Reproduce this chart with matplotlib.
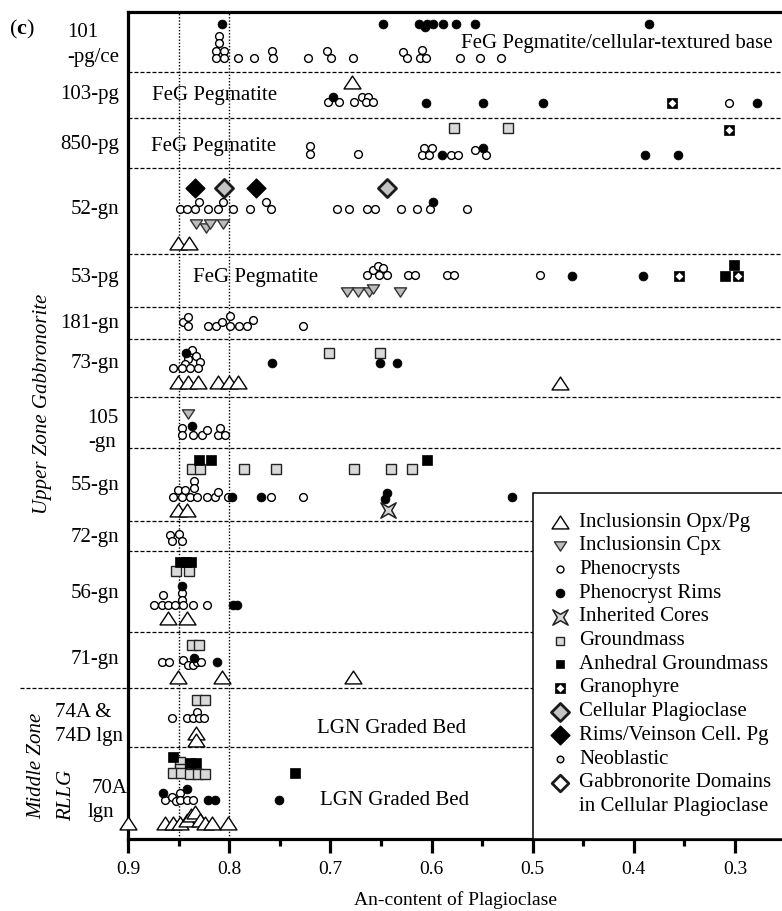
import matplotlib
matplotlib.use("Agg")
import matplotlib.pyplot as plt
from matplotlib.lines import Line2D
from matplotlib.patches import Rectangle
from matplotlib.path import Path

plt.rcParams['font.family'] = ['Liberation Serif', 'DejaVu Serif']
plt.rcParams['mathtext.fontset'] = 'custom'
plt.rcParams['mathtext.rm'] = 'Liberation Serif'
plt.rcParams['mathtext.bf'] = 'Liberation Serif:bold'

W, H = 782, 911

# ---------------- data ----------------
# vertical plotting position runs top (12) to bottom (839) through the sample column
BAND_EDGES = [72, 118, 168, 254, 307, 339, 397, 448, 521, 551, 632, 688, 747]
ZONE_EDGE = 688

# Inclusions in Opx/Pg (open triangles)
OPX_AN = [0.679, 0.851, 0.840, 0.851, 0.841, 0.831, 0.811, 0.800, 0.791, 0.473,
          0.851, 0.842, 0.860, 0.842, 0.851, 0.807, 0.678, 0.833, 0.833, 0.900,
          0.863, 0.856, 0.849, 0.842, 0.838, 0.834, 0.829, 0.824, 0.817, 0.801]
OPX_POS = [82, 243, 243, 382, 382, 382, 382, 382, 382, 383,
           510, 510, 618, 618, 677, 677, 677, 733, 740, 823,
           823, 823, 823, 820, 815, 812, 820, 823, 823, 823]

# Inclusions in Cpx (grey inverted triangles)
CPX_AN = [0.833, 0.823, 0.819, 0.806, 0.684, 0.673, 0.662, 0.658, 0.631, 0.841]
CPX_POS = [224, 228, 224, 224, 292, 292, 292, 289, 292, 414]

# Phenocrysts (open circles)
PHENO_AN = [
    # 101
    0.810, 0.810, 0.813, 0.805, 0.813, 0.805, 0.791, 0.775, 0.758, 0.757, 0.722,
    0.703, 0.699, 0.678, 0.628, 0.624, 0.609, 0.611, 0.605, 0.572, 0.552, 0.531,
    # 103
    0.702, 0.691, 0.677, 0.669, 0.663, 0.665, 0.658, 0.306,
    # 850
    0.720, 0.720, 0.673, 0.607, 0.600, 0.609, 0.602, 0.581, 0.574, 0.557, 0.546,
    # 52
    0.849, 0.842, 0.834, 0.830, 0.821, 0.811, 0.806, 0.796, 0.779, 0.764, 0.759,
    0.693, 0.682, 0.664, 0.656, 0.630, 0.614, 0.601, 0.565,
    # 53
    0.664, 0.658, 0.653, 0.652, 0.644, 0.648, 0.623, 0.616, 0.585, 0.578, 0.493,
    # 181
    0.846, 0.841, 0.841, 0.821, 0.813, 0.807, 0.799, 0.799, 0.790, 0.782, 0.776, 0.727,
    # 73
    0.837, 0.833, 0.841, 0.829, 0.844, 0.856, 0.847, 0.839, 0.831,
    # 105
    0.847, 0.847, 0.836, 0.827, 0.822, 0.811, 0.809, 0.804,
    # 55
    0.856, 0.847, 0.851, 0.844, 0.839, 0.835, 0.835, 0.832, 0.822, 0.814, 0.811,
    0.801, 0.759, 0.727,
    # 72
    0.858, 0.857, 0.850, 0.847,
    # 56
    0.847, 0.847, 0.865, 0.874, 0.866, 0.860, 0.854, 0.846, 0.836, 0.822,
    # 71
    0.866, 0.859, 0.846, 0.841, 0.836, 0.832, 0.828,
    # 74A & 74D
    0.857, 0.842, 0.836, 0.832, 0.830, 0.825,
    # 70A
    0.863, 0.857, 0.853, 0.849, 0.849, 0.842, 0.836,
]
PHENO_POS = [
    36, 43, 51, 51, 58, 58, 58, 58, 51, 58, 58,
    51, 58, 58, 52, 58, 50, 58, 58, 58, 58, 58,
    102, 102, 102, 97, 97, 102, 102, 103,
    146, 154, 154, 148, 148, 155, 155, 155, 155, 150, 155,
    209, 209, 209, 202, 209, 209, 202, 209, 209, 202, 209,
    209, 209, 209, 209, 209, 209, 209, 209,
    275, 270, 266, 275, 275, 268, 275, 275, 275, 275, 275,
    322, 317, 326, 326, 326, 322, 316, 326, 326, 326, 320, 326,
    350, 356, 359, 362, 364, 368, 368, 368, 368,
    428, 435, 435, 435, 430, 435, 428, 435,
    497, 497, 490, 490, 497, 481, 488, 497, 497, 497, 492,
    497, 497, 497,
    535, 541, 534, 541,
    593, 600, 595, 605, 605, 605, 605, 605, 605, 605,
    662, 662, 660, 665, 665, 662, 662,
    718, 718, 718, 712, 718, 718,
    800, 797, 801, 793, 800, 800, 800,
]

# Phenocryst rims (filled circles)
RIM_AN = [0.807, 0.648, 0.612, 0.606, 0.604, 0.599, 0.589, 0.576, 0.557, 0.385,
          0.697, 0.605, 0.549, 0.490, 0.278,
          0.590, 0.549, 0.389, 0.356,
          0.599,
          0.461, 0.391,
          0.843, 0.758, 0.651, 0.634,
          0.837,
          0.797, 0.769, 0.644, 0.646, 0.520,
          0.847, 0.796, 0.792,
          0.835, 0.812,
          0.865, 0.842, 0.821, 0.814, 0.751]
RIM_POS = [24, 24, 24, 27, 24, 24, 24, 24, 24, 24,
           97, 103, 103, 103, 103,
           155, 148, 155, 155,
           202,
           276, 276,
           353, 363, 363, 363,
           426,
           497, 497, 493, 499, 497,
           586, 605, 605,
           658, 662,
           793, 789, 800, 800, 800]

# Inherited cores
CORE_AN = [0.643]
CORE_POS = [510]

# Groundmass (grey squares)
GM_AN = [0.578, 0.524, 0.701, 0.651,
         0.837, 0.829, 0.785, 0.754, 0.677, 0.640, 0.619,
         0.853, 0.840, 0.837, 0.830, 0.832, 0.824,
         0.849, 0.849, 0.856, 0.848, 0.839, 0.831, 0.824]
GM_POS = [128, 128, 353, 353,
          469, 469, 469, 469, 469, 469, 469,
          571, 571, 645, 645, 700, 700,
          762, 769, 773, 773, 774, 774, 774]

# Anhedral groundmass (black squares)
AGM_AN = [0.310, 0.301, 0.830, 0.818, 0.604, 0.849, 0.843, 0.838,
          0.856, 0.839, 0.833, 0.735]
AGM_POS = [276, 265, 460, 460, 460, 562, 562, 562,
           757, 763, 763, 773]

# Granophyre
GRANO_AN = [0.362, 0.306, 0.355, 0.297]
GRANO_POS = [103, 130, 276, 276]

# Cellular plagioclase (grey diamonds) and rims/veins on cellular Pg (black diamonds)
CELL_AN = [0.805, 0.644]
CELL_POS = [188, 188]
VEIN_AN = [0.834, 0.773]
VEIN_POS = [188, 188]

SAMPLE_LABELS = [  # (text, x, baseline y, alignment)
    ("101", 67, 37, "left"), ("-pg/ce", 119, 62, "right"),
    ("103-pg", 119, 99, "right"), ("850-pg", 119, 149, "right"),
    ("52-gn", 119, 214, "right"), ("53-pg", 119, 282, "right"),
    ("181-gn", 119, 328, "right"), ("73-gn", 119, 368, "right"),
    ("105", 118, 423, "right"), ("-gn", 88, 447, "left"),
    ("55-gn", 119, 490, "right"), ("72-gn", 119, 542, "right"),
    ("56-gn", 119, 598, "right"), ("71-gn", 119, 664, "right"),
    ("74A &", 55, 717, "left"), ("74D lgn", 55, 741, "left"),
    ("70A", 92, 793, "left"), ("lgn", 88, 817, "left"),
]
BAND_NOTES = [  # (text, x, baseline y)
    ("FeG Pegmatite/cellular-textured base", 461, 48),
    ("FeG Pegmatite", 152, 100), ("FeG Pegmatite", 151, 151),
    ("FeG Pegmatite", 193, 282),
    ("LGN Graded Bed", 317, 733), ("LGN Graded Bed", 320, 805),
]

# ---------------- marker styles ----------------
TRI_UP = Path([(0, 0.76), (-1, -0.76), (1, -0.76), (0, 0.76)], closed=True)
TRI_DN = Path([(0, -0.76), (-1, 0.76), (1, 0.76), (0, -0.76)], closed=True)
DIAMOND = Path([(0, 1), (1, 0), (0, -1), (-1, 0), (0, 1)], closed=True)
STAR4 = Path([(1, 1), (0, 0.42), (-1, 1), (-0.42, 0), (-1, -1), (0, -0.42),
              (1, -1), (0.42, 0), (1, 1)], closed=True)

STY = {
    "opx": dict(marker=TRI_UP, ms=12.2, mfc="white", mec="black", mew=1.0),
    "cpx": dict(marker=TRI_DN, ms=8.8, mfc="#bcbcbc", mec="#333333", mew=1.0),
    "pheno": dict(marker="o", ms=5.6, mfc="white", mec="black", mew=1.0),
    "rim": dict(marker="o", ms=6.4, mfc="black", mec="black", mew=0.5),
    "core": dict(marker=STAR4, ms=11, mfc="#d4d4d4", mec="#222222", mew=1.1),
    "gm": dict(marker="s", ms=7.0, mfc="#d9d9d9", mec="#222222", mew=1.0),
    "agm": dict(marker="s", ms=7.2, mfc="black", mec="black", mew=0.5),
    "cell": dict(marker=DIAMOND, ms=13, mfc="#c4c4c4", mec="#1a1a1a", mew=2.0),
    "vein": dict(marker=DIAMOND, ms=13.5, mfc="black", mec="black", mew=1.0),
    "neo": dict(marker="o", ms=5.6, mfc="#dddddd", mec="black", mew=1.0),
    "gdom": dict(marker=DIAMOND, ms=12, mfc="white", mec="#1a1a1a", mew=2.0),
}
GRANO_OUT = dict(marker="s", ms=7.4, mfc="black", mec="black", mew=0.5)
GRANO_IN = dict(marker=DIAMOND, ms=5.6, mfc="white", mec="white", mew=0.0)


def fx(x):
    return x / W


def fy(y):
    return 1 - y / H


fig = plt.figure(figsize=(W / 100, H / 100), dpi=100)
ax = fig.add_axes([fx(128), fy(839), (W - 128) / W, (839 - 12) / H])
X_RIGHT = 0.9 - (W - 128) / 1011.7
ax.set_xlim(0.9, X_RIGHT)
ax.set_ylim(839, 12)

# guides
ax.hlines(BAND_EDGES, 0.9, X_RIGHT, colors="black", lw=0.9,
          linestyles=[(0, (3.2, 1.6))], zorder=1)
ax.plot([0.9 + 108 / 1011.7, 0.9], [ZONE_EDGE, ZONE_EDGE], color="black", lw=0.9,
        ls=(0, (3.2, 1.6)), clip_on=False, zorder=1)
for xv in (0.85, 0.80):
    ax.axvline(xv, color="black", lw=1.0, ls=(0, (1, 1.3)), zorder=1)

# data marks
def draw(an, pos, style, z=3):
    ax.plot(an, pos, ls="none", clip_on=False, zorder=z, **style)

draw(GM_AN, GM_POS, STY["gm"], 3)
draw(AGM_AN, AGM_POS, STY["agm"], 3)
draw(GRANO_AN, GRANO_POS, GRANO_OUT, 3)
draw(GRANO_AN, GRANO_POS, GRANO_IN, 4)
draw(OPX_AN, OPX_POS, STY["opx"], 3)
draw(CPX_AN, CPX_POS, STY["cpx"], 3)
draw(PHENO_AN, PHENO_POS, STY["pheno"], 4)
draw(RIM_AN, RIM_POS, STY["rim"], 5)
draw(CORE_AN, CORE_POS, STY["core"], 4)
draw(CELL_AN, CELL_POS, STY["cell"], 4)
draw(VEIN_AN, VEIN_POS, STY["vein"], 4)

# axes styling
for side in ("left", "top", "bottom"):
    ax.spines[side].set_linewidth(2.3)
ax.spines["right"].set_visible(False)
ax.set_yticks([])
ax.set_xticks([0.9, 0.8, 0.7, 0.6, 0.5, 0.4, 0.3])
ax.set_xticklabels(["0.9", "0.8", "0.7", "0.6", "0.5", "0.4", "0.3"])
ax.set_xticks([0.85, 0.75, 0.65, 0.55, 0.45, 0.35], minor=True)
ax.tick_params(axis="x", which="major", length=10, width=2.3, direction="out",
               labelsize=14, pad=6)
ax.tick_params(axis="x", which="minor", length=5, width=2.3, direction="out")
ax.set_xlabel("An-content of Plagioclase", fontsize=14, labelpad=9)

# labels
for text, x, y, ha in SAMPLE_LABELS:
    fig.text(fx(x), fy(y), text, ha=ha, va="baseline", fontsize=15)
for text, x, y in BAND_NOTES:
    fig.text(fx(x), fy(y), text, ha="left", va="baseline", fontsize=15, zorder=6)

fig.text(fx(9), fy(34), r"($\mathbf{c}$)", ha="left", va="baseline", fontsize=16)
fig.text(fx(43), fy(404), "Upper Zone Gabbronorite", rotation=90, ha="center",
         va="center", fontsize=15, style="italic")
fig.text(fx(37), fy(766), "Middle Zone", rotation=90, ha="center", va="center",
         fontsize=15, style="italic")
fig.text(fx(67), fy(795), "RLLG", rotation=90, ha="center", va="center",
         fontsize=15, style="italic")

# legend box
fig.add_artist(Rectangle((fx(533), fy(839)), (W + 10 - 533) / W, (839 - 493) / H,
                         transform=fig.transFigure, facecolor="white",
                         edgecolor="black", lw=1.1, zorder=10))
LEGEND = [
    ("opx", "Inclusionsin Opx/Pg"), ("cpx", "Inclusionsin Cpx"),
    ("pheno", "Phenocrysts"), ("rim", "Phenocryst Rims"),
    ("core", "Inherited Cores"), ("gm", "Groundmass"),
    ("agm", "Anhedral Groundmass"), ("grano", "Granophyre"),
    ("cell", "Cellular Plagioclase"), ("vein", "Rims/Veinson Cell. Pg"),
    ("neo", "Neoblastic"), ("gdom", "Gabbronorite Domains"),
]
for i, (key, label) in enumerate(LEGEND):
    yy = 522 + 23.7 * i
    if key == "grano":
        for st, z in ((GRANO_OUT, 11), (GRANO_IN, 12)):
            fig.add_artist(Line2D([fx(560)], [fy(yy)], transform=fig.transFigure,
                                  ls="none", zorder=z, **st))
    else:
        st = dict(STY[key])
        if key in ("gm", "agm"):
            st["ms"] = 6.4
        if key == "pheno":
            st["ms"] = 5.0
        if key == "neo":
            st["ms"] = 4.8
        fig.add_artist(Line2D([fx(560)], [fy(yy)], transform=fig.transFigure,
                              ls="none", zorder=11, **st))
    fig.text(fx(579), fy(yy), label, ha="left", va="center", fontsize=15, zorder=12)
fig.text(fx(579), fy(522 + 23.7 * 12), "in Cellular Plagioclase", ha="left",
         va="center", fontsize=15, zorder=12)

fig.savefig("out.png", dpi=100)
